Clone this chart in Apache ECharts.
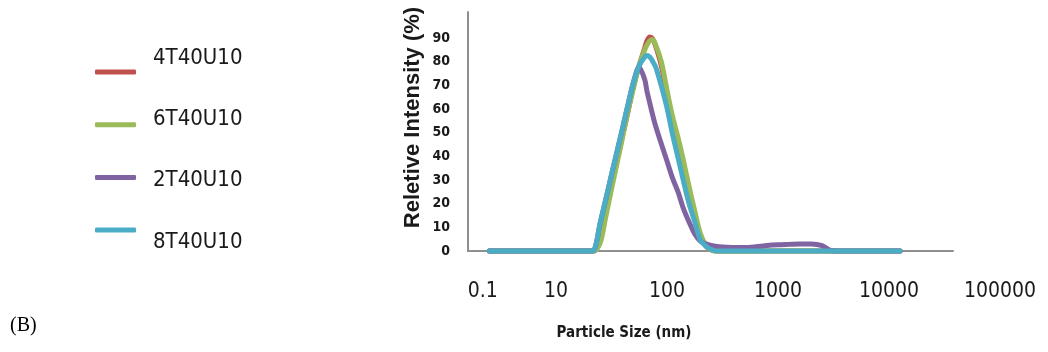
<!DOCTYPE html>
<html>
<head>
<meta charset="utf-8">
<script src="https://cdn.jsdelivr.net/npm/echarts@6/dist/echarts.min.js"></script>
<style>
  html, body { margin: 0; padding: 0; background: #fff; }
  #chart { width: 1048px; height: 352px; }
</style>
</head>
<body>
<div id="chart"></div>
<script>
// Particle size (nm) at which every intensity curve is sampled
const sizes = [2.5, 10, 20, 22, 25, 28, 32, 36, 40, 45, 50, 56, 63, 66, 70, 74, 79, 89, 100,
  112, 126, 141, 158, 178, 200, 224, 251, 282, 316, 400, 500, 630, 800, 1000, 1260, 1580,
  2000, 2500, 3000, 3500, 5000, 12600];

// Relative intensity (%) for each sample
const s4T40U10 = [0, 0, 0, 0, 6.1, 16.4, 28.7, 39.4, 49.1, 59.9, 70, 78.2, 85.8, 88.8, 90.4, 89.8, 86.6, 78.2, 65.9,
  54.9, 44.8, 34.7, 24.1, 14.4, 5.9, 2.1, 0.4, 0, 0, 0, 0, 0, 0, 0, 0, 0,
  0, 0, 0, 0, 0, 0];
const s6T40U10 = [0, 0, 0, 0, 3.4, 14.2, 27.3, 38.5, 48.6, 60, 68.9, 78.2, 85, 87, 88.8, 89.4, 87.2, 79.9, 68,
  57, 47.8, 38, 27.3, 16.9, 7.4, 2.5, 0.4, 0, 0, 0, 0, 0, 0, 0, 0, 0,
  0, 0, 0, 0, 0, 0];
const s2T40U10 = [0, 0, 0, 0.3, 11.8, 21.5, 33.2, 43.3, 52.4, 62.7, 71.5, 77.8, 72.5, 67.5, 62.5, 57.8, 52.8, 45.2, 38,
  30.9, 24.9, 17.8, 12.3, 7.2, 4.2, 3, 2.3, 1.9, 1.7, 1.5, 1.5, 1.8, 2.3, 2.6, 2.8, 3.0,
  3.0, 2.3, 0.2, 0, 0, 0];
const s8T40U10 = [0, 0, 0, 0.3, 11.8, 21.5, 33.2, 43.3, 52.4, 62.7, 71.4, 78.2, 82, 82.6, 82, 80.3, 77.8, 69.7, 60.5,
  49.5, 39.3, 29.4, 20, 12.3, 4.6, 2.1, 0.6, 0, 0, 0, 0, 0, 0, 0, 0, 0,
  0, 0, 0, 0, 0, 0];

const seriesNames = ['4T40U10', '6T40U10', '2T40U10', '8T40U10'];
const seriesValues = [s4T40U10, s6T40U10, s2T40U10, s8T40U10];
const seriesColors = ['#C0504D', '#9BBB59', '#8064A2', '#4BACC6'];

// Size-axis tick labels and the decade positions they are printed at
const tickLabels = ['0.1', '10', '100', '1000', '10000', '100000'];
const tickDecades = [0.34, 1, 2, 3, 4, 5];

const yTicks = [0, 10, 20, 30, 40, 50, 60, 70, 80, 90];

const NARROW = "'Liberation Sans Narrow', 'DejaVu Sans Condensed', 'Liberation Sans', sans-serif";
const AXIS_GREY = '#8f8f8f';

const chart = echarts.init(document.getElementById('chart'), null, { renderer: 'canvas' });

const option = {
  animation: false,
  backgroundColor: '#fff',
  title: {
    text: '(B)',
    left: 10,
    top: 316,
    padding: 0,
    textStyle: { fontFamily: "'Liberation Serif', serif", fontSize: 20, fontWeight: 'normal', color: '#000' }
  },
  legend: [
    // colour swatches
    {
      data: seriesNames,
      orient: 'vertical',
      left: 95,
      top: 69.5,
      padding: 0,
      itemGap: 47.7,
      icon: 'roundRect',
      itemWidth: 41,
      itemHeight: 5,
      selectedMode: false,
      formatter: function () { return ''; },
      textStyle: { fontSize: 5, lineHeight: 5 }
    },
    // sample names, spaced a little wider than the swatches
    {
      data: seriesNames,
      orient: 'vertical',
      left: 148,
      top: 47,
      padding: 0,
      itemGap: 39.3,
      icon: 'rect',
      itemWidth: 0,
      itemHeight: 0,
      selectedMode: false,
      textStyle: { fontFamily: NARROW, fontSize: 22, lineHeight: 22, color: '#1a1a1a' }
    }
  ],
  grid: [
    { left: 468, right: 95, top: 12, bottom: 101 },
    { left: 215, right: 15, top: 12, bottom: 101 }
  ],
  xAxis: [
    {
      type: 'log',
      logBase: 10,
      gridIndex: 0,
      min: 1.61,
      max: 37800,
      axisLine: { show: true, onZero: false, lineStyle: { color: AXIS_GREY, width: 2 } },
      axisTick: { show: false },
      axisLabel: { show: false },
      splitLine: { show: false },
      minorSplitLine: { show: false }
    },
    {
      type: 'value',
      gridIndex: 1,
      min: -2.072,
      max: 5.297,
      axisLine: { show: false },
      axisTick: { show: false },
      splitLine: { show: false },
      axisLabel: {
        show: true,
        customValues: tickDecades,
        margin: 30,
        fontFamily: NARROW,
        fontSize: 21,
        color: '#1a1a1a',
        formatter: function (v) {
          let best = 0;
          tickDecades.forEach((d, i) => { if (Math.abs(d - v) < Math.abs(tickDecades[best] - v)) best = i; });
          return tickLabels[best];
        }
      },
      name: 'Particle Size (nm)',
      nameLocation: 'middle',
      nameGap: 75,
      nameTextStyle: { fontFamily: NARROW, fontSize: 15, fontWeight: 'bold', color: '#1a1a1a' }
    }
  ],
  yAxis: [
    {
      type: 'value',
      gridIndex: 0,
      min: 0,
      max: 101,
      interval: 10,
      axisLine: { show: true, lineStyle: { color: AXIS_GREY, width: 2 } },
      axisTick: { show: false },
      splitLine: { show: false },
      axisLabel: {
        margin: 18,
        fontFamily: NARROW,
        fontSize: 14,
        fontWeight: 'bold',
        color: '#1a1a1a',
        formatter: function (v) { return yTicks.indexOf(v) >= 0 ? String(v) : ''; }
      },
      name: 'Reletive Intensity (%)',
      nameLocation: 'middle',
      nameRotate: 90,
      nameGap: 44,
      nameTextStyle: {
        fontFamily: "'Liberation Sans', Arial, sans-serif",
        fontSize: 22,
        fontWeight: 'bold',
        color: '#1a1a1a',
        padding: [0, 0, 0, 28]
      }
    },
    { type: 'value', gridIndex: 1, show: false, min: 0, max: 101 }
  ],
  series: seriesNames.map((name, i) => ({
    name: name,
    type: 'line',
    xAxisIndex: 0,
    yAxisIndex: 0,
    data: sizes.map((s, k) => [s, seriesValues[i][k]]),
    showSymbol: false,
    symbol: 'none',
    smooth: 0.3,
    clip: false,
    color: seriesColors[i],
    lineStyle: { color: seriesColors[i], width: 5, cap: 'round', join: 'round' },
    emphasis: { disabled: true }
  }))
};

chart.setOption(option);
</script>
</body>
</html>
